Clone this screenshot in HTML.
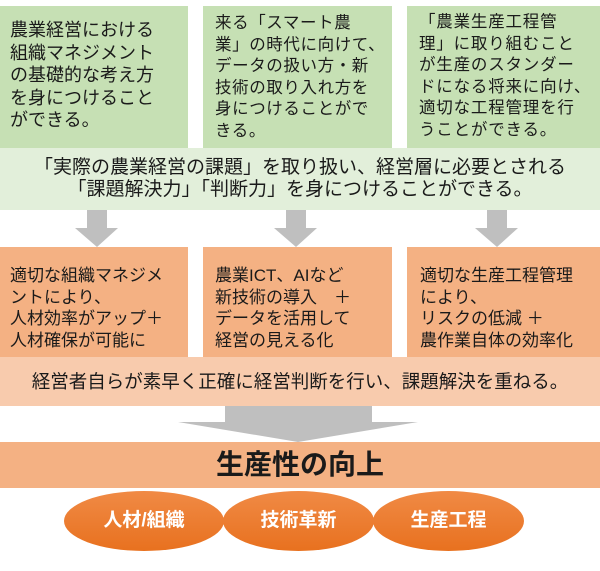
<!DOCTYPE html>
<html><head><meta charset="utf-8"><style>
body{margin:0;width:600px;height:571px;background:#fff;position:relative;overflow:hidden;font-family:"Liberation Sans","Noto Sans CJK JP",sans-serif;color:#1a1a1a}
.a{position:absolute;box-sizing:border-box}
.g{background:#c6e0b4;top:6px;height:142px}
.o{background:#f4b183;top:247px;height:110px;font-size:17px;line-height:21.5px;padding:18px 0 0 10px}
.ell{position:absolute;top:491px;height:60px;border-radius:50%;background:linear-gradient(#f08a45,#e8711f);color:#fff;font-size:19px;font-weight:bold;text-align:center;line-height:60px}
</style></head><body>
<div class="a g" style="left:0;width:188px;font-size:18px;line-height:22.5px;padding:13px 0 0 10px">農業経営における<br>組織マネジメント<br>の基礎的な考え方<br>を身につけること<br>ができる。</div>
<div class="a g" style="left:203px;width:189px;font-size:16.5px;letter-spacing:0.6px;line-height:21.5px;padding:7px 0 0 12px;white-space:nowrap">来る「スマート農<br>業」の時代に向けて、<br>データの扱い方・新<br>技術の取り入れ方を<br>身につけることがで<br>きる。</div>
<div class="a g" style="left:407px;width:193px;font-size:16.5px;letter-spacing:0.8px;line-height:21.5px;padding:6px 0 0 12px;white-space:nowrap">「農業生産工程管<br>理」に取り組むこと<br>が生産のスタンダー<br>ドになる将来に向け、<br>適切な工程管理を行<br>うことができる。</div>
<div class="a" style="left:0;top:148px;width:600px;height:62px;background:#e2efda;text-align:center;font-size:19px;line-height:22px;padding-top:9px">「実際の農業経営の課題」を取り扱い、経営層に必要とされる<br>「課題解決力」「判断力」を身につけることができる。</div>
<svg class="a" style="left:0;top:210px" width="600" height="37">
<g fill="#bfbfbf">
<polygon points="87,0 107,0 107,18 118,18 97,37 75,18 87,18"/>
<polygon points="286,0 306,0 306,18 317,18 296,37 274,18 286,18"/>
<polygon points="487,0 507,0 507,18 518,18 497,37 475,18 487,18"/>
</g></svg>
<div class="a o" style="left:0;width:188px">適切な組織マネジメ<br>ントにより、<br>人材効率がアップ＋<br>人材確保が可能に</div>
<div class="a o" style="left:203px;width:189px;padding-left:12px">農業ICT、AIなど<br>新技術の導入　＋<br>データを活用して<br>経営の見える化</div>
<div class="a o" style="left:407px;width:193px;padding-left:13px">適切な生産工程管理<br>により、<br>リスクの低減 ＋<br>農作業自体の効率化</div>
<div class="a" style="left:0;top:357px;width:600px;height:49px;background:#f8cbad;text-align:center;font-size:18.5px;line-height:49px">経営者自らが素早く正確に経営判断を行い、課題解決を重ねる。</div>
<svg class="a" style="left:0;top:406px" width="600" height="36">
<polygon fill="#bfbfbf" points="225,0 372,0 372,16 418,16 298,36 178,16 225,16"/>
</svg>
<div class="a" style="left:0;top:442px;width:600px;height:46px;background:#f4b183;text-align:center;font-size:28px;font-weight:bold;line-height:46px">生産性の向上</div>
<div class="ell" style="left:64px;width:160px">人材/組織</div>
<div class="ell" style="left:223px;width:151px">技術革新</div>
<div class="ell" style="left:373px;width:151px">生産工程</div>
</body></html>
